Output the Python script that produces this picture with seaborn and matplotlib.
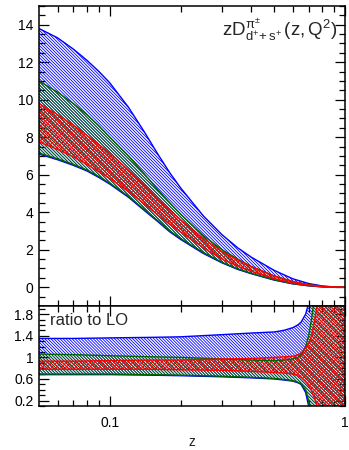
import numpy as np
import pandas as pd
import matplotlib
matplotlib.use("Agg")
import matplotlib.pyplot as plt
from matplotlib.ticker import FixedLocator, MultipleLocator, NullFormatter
import seaborn as sns

# Fragmentation function bands zD(z,Q^2) for d+ + s+ -> pi+-
z_top = [0.05, 0.06, 0.07, 0.08, 0.09, 0.1, 0.12, 0.14, 0.16, 0.18, 0.2, 0.25,
         0.3, 0.35, 0.4, 0.5, 0.6, 0.7, 0.8, 0.9, 1.0]
blue_hi = [13.8, 13.3, 12.7, 12.1, 11.5, 10.9, 9.6, 8.3, 7.1, 6.1, 5.3, 3.8,
           2.8, 2.1, 1.6, 0.9, 0.45, 0.2, 0.07, 0.015, 0.0]
blue_lo = [7.1, 6.8, 6.5, 6.2, 5.85, 5.5, 4.8, 4.1, 3.5, 2.95, 2.55, 1.8,
           1.3, 0.95, 0.72, 0.38, 0.18, 0.075, 0.022, 0.004, 0.0]
green_hi = [11.0, 10.4, 9.8, 9.2, 8.6, 8.0, 7.0, 6.05, 5.2, 4.5, 3.9, 2.75,
            2.0, 1.5, 1.1, 0.6, 0.3, 0.13, 0.045, 0.01, 0.0]
green_lo = [7.15, 6.85, 6.55, 6.25, 5.9, 5.55, 4.85, 4.15, 3.55, 3.0, 2.6, 1.85,
            1.33, 0.98, 0.74, 0.4, 0.19, 0.08, 0.025, 0.005, 0.0]
red_hi = [9.8, 9.2, 8.65, 8.1, 7.6, 7.15, 6.25, 5.45, 4.7, 4.1, 3.6, 2.6,
          1.9, 1.45, 1.1, 0.6, 0.3, 0.13, 0.045, 0.01, 0.0]
red_lo = [7.75, 7.35, 6.95, 6.55, 6.15, 5.8, 5.1, 4.45, 3.85, 3.35, 2.95, 2.1,
          1.5, 1.12, 0.85, 0.46, 0.22, 0.095, 0.03, 0.007, 0.0]

# Same bands normalised to the LO result
z_rat = [0.05, 0.07, 0.1, 0.15, 0.2, 0.3, 0.4, 0.5, 0.55, 0.6, 0.63, 0.65,
         0.68, 0.7, 0.72, 0.74, 0.76, 0.78, 0.8, 0.9, 1.0]
rblue_hi = [1.35, 1.35, 1.36, 1.37, 1.38, 1.42, 1.45, 1.47, 1.50, 1.55, 1.60,
            1.65, 1.80, 2.00, 2.4, 3.0, 3.0, 3.0, 3.0, 3.0, 3.0]
rblue_lo = [0.68, 0.68, 0.68, 0.67, 0.66, 0.64, 0.62, 0.60, 0.58, 0.56, 0.53,
            0.50, 0.35, 0.10, -0.5, -1.0, -1.0, -1.0, -1.0, -1.0, -1.0]
rgreen_hi = [1.06, 1.05, 1.03, 1.01, 1.00, 0.97, 0.95, 0.94, 0.95, 0.97, 1.00,
             1.05, 1.20, 1.40, 1.70, 2.10, 2.6, 3.0, 3.0, 3.0, 3.0]
rgreen_lo = [0.69, 0.69, 0.69, 0.68, 0.67, 0.65, 0.63, 0.61, 0.59, 0.57, 0.54,
             0.51, 0.40, 0.20, -0.2, -1.0, -1.0, -1.0, -1.0, -1.0, -1.0]
rred_hi = [0.93, 0.93, 0.94, 0.95, 0.95, 0.97, 0.98, 1.00, 1.01, 1.02, 1.05,
           1.08, 1.17, 1.25, 1.40, 1.65, 1.95, 2.5, 3.0, 3.0, 3.0]
rred_lo = [0.78, 0.78, 0.78, 0.78, 0.77, 0.76, 0.74, 0.72, 0.71, 0.69, 0.66,
           0.63, 0.55, 0.48, 0.38, 0.25, 0.10, -0.3, -1.0, -1.0, -1.0]

band_colors = {"blue": "#0000ff", "green": "#006400", "red": "#ff0000"}
band_hatch = {"blue": "\\" * 11, "green": "\\" * 11, "red": "x" * 7}

sns.set_theme(style="ticks")
plt.rcParams["font.family"] = ["Liberation Sans", "DejaVu Sans"]
plt.rcParams["mathtext.fontset"] = "custom"
plt.rcParams["mathtext.rm"] = "Liberation Sans"
plt.rcParams["mathtext.it"] = "Liberation Sans"
plt.rcParams["mathtext.bf"] = "Liberation Sans:bold"
plt.rcParams["hatch.linewidth"] = 0.6
plt.rcParams["axes.linewidth"] = 1.1

top = pd.DataFrame({"z": z_top,
                    "blue_lo": blue_lo, "blue_hi": blue_hi,
                    "green_lo": green_lo, "green_hi": green_hi,
                    "red_lo": red_lo, "red_hi": red_hi})
rat = pd.DataFrame({"z": z_rat,
                    "blue_lo": rblue_lo, "blue_hi": rblue_hi,
                    "green_lo": rgreen_lo, "green_hi": rgreen_hi,
                    "red_lo": rred_lo, "red_hi": rred_hi})

fig = plt.figure(figsize=(3.49, 4.5), dpi=100)
ax1 = fig.add_axes([0.1117, 0.32, 0.877, 0.6667])
ax2 = fig.add_axes([0.1117, 0.0978, 0.877, 0.2222])


def draw_bands(ax, df):
    for name in ["blue", "green", "red"]:
        c = band_colors[name]
        ax.fill_between(df["z"], df[name + "_lo"], df[name + "_hi"],
                        facecolor="none", edgecolor=c, hatch=band_hatch[name],
                        linewidth=0)
        sns.lineplot(x=df["z"], y=df[name + "_lo"], ax=ax, color=c, lw=1.0,
                     estimator=None, sort=False)
        sns.lineplot(x=df["z"], y=df[name + "_hi"], ax=ax, color=c, lw=1.0,
                     estimator=None, sort=False)


draw_bands(ax1, top)
draw_bands(ax2, rat)

for ax in (ax1, ax2):
    ax.set_xscale("log")
    ax.set_xlim(0.05, 1.0)
    ax.xaxis.set_major_locator(FixedLocator([0.1, 1.0]))
    ax.xaxis.set_minor_locator(FixedLocator([0.06, 0.07, 0.08, 0.09, 0.2, 0.3, 0.4,
                                             0.5, 0.6, 0.7, 0.8, 0.9]))
    ax.xaxis.set_minor_formatter(NullFormatter())
    ax.tick_params(which="both", direction="in", top=True, right=True,
                   colors="black", labelsize=10, width=0.9)
    ax.tick_params(which="major", length=7, pad=4)
    ax.tick_params(which="minor", length=4)
    ax.set_xlabel("")
    ax.set_ylabel("")
    for s in ax.spines.values():
        s.set_color("black")

ax1.set_ylim(-1, 15)
ax1.set_yticks([0, 2, 4, 6, 8, 10, 12, 14])
ax1.yaxis.set_minor_locator(MultipleLocator(0.5))
ax1.tick_params(axis="x", labelbottom=False)

ax2.set_ylim(0.1, 1.95)
ax2.set_yticks([0.2, 0.6, 1.0, 1.4, 1.8])
ax2.set_yticklabels(["0.2", "0.6", "1", "1.4", "1.8"])
ax2.yaxis.set_minor_locator(MultipleLocator(0.1))
ax2.set_xticks([0.1, 1.0])
ax2.set_xticklabels(["0.1", "1"])
ax2.tick_params(axis="x", pad=7)
ax2.set_xlabel("z", fontsize=10, labelpad=4)

ax1.text(0.975, 0.965, r"$\mathregular{zD^{\pi^{\pm}}_{d^{+}\!+s^{+}}\,(z,Q^2)}$",
         transform=ax1.transAxes, ha="right", va="top", fontsize=13.5)
ax2.text(0.035, 0.93, "ratio to LO", transform=ax2.transAxes,
         ha="left", va="top", fontsize=12)

fig.savefig("out.png", dpi=100)
